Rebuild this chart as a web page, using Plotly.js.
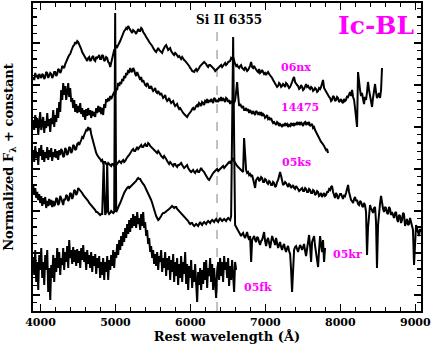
<!DOCTYPE html>
<html>
<head>
<meta charset="utf-8">
<script src="https://cdn.plot.ly/plotly-3.0.1.min.js"></script>
<style>
  html, body { margin: 0; padding: 0; background: #fff; }
  #plot { width: 436px; height: 345px; }
</style>
</head>
<body>
<div id="plot"></div>
<script>
// spectra: [rest wavelength (A), normalized flux + constant]
const sn06nx = [[3903,23.4],[3916,23.1],[3930,23.8],[3943,23.4],[3956,23.5],[3970,23.2],[3983,23.7],[3996,23.5],[4010,23.3],[4023,23.7],[4036,23.6],[4050,23.2],[4063,23.4],[4076,23.9],[4090,23.8],[4103,23.3],[4116,23.5],[4130,23.8],[4143,23.7],[4156,23.3],[4170,23.5],[4183,23.9],[4196,23.9],[4210,23.5],[4223,23.7],[4236,24.2],[4250,24.1],[4263,23.8],[4276,24.0],[4290,24.5],[4303,24.4],[4316,24.3],[4330,24.7],[4343,25.0],[4356,25.1],[4370,25.4],[4383,25.6],[4396,25.7],[4410,26.0],[4423,26.3],[4436,26.5],[4450,26.6],[4463,26.9],[4476,26.7],[4490,27.0],[4503,26.9],[4516,26.7],[4530,26.4],[4543,26.2],[4556,25.9],[4570,25.7],[4583,25.5],[4596,25.3],[4610,25.1],[4623,25.0],[4636,25.3],[4650,25.4],[4663,25.0],[4676,25.1],[4690,25.4],[4703,25.5],[4716,25.1],[4730,25.0],[4743,25.4],[4756,25.3],[4770,25.4],[4783,25.6],[4796,25.2],[4810,25.2],[4823,25.6],[4836,25.5],[4850,25.0],[4863,25.1],[4876,25.4],[4890,25.3],[4903,24.9],[4916,24.8],[4930,24.4],[4943,24.9],[4956,25.3],[4970,25.7],[4983,26.1],[4996,26.2],[5010,26.5],[5023,26.4],[5036,26.7],[5050,26.8],[5063,27.0],[5076,27.3],[5090,27.5],[5103,27.7],[5116,28.0],[5130,28.1],[5143,28.3],[5156,28.2],[5170,28.5],[5183,28.3],[5196,28.1],[5210,27.9],[5223,27.8],[5236,28.1],[5250,28.0],[5263,27.9],[5276,27.7],[5290,28.0],[5303,28.2],[5316,28.0],[5330,28.0],[5343,28.3],[5356,28.2],[5370,27.9],[5383,27.8],[5396,27.6],[5410,27.4],[5423,27.3],[5436,27.1],[5450,26.9],[5463,26.8],[5476,26.7],[5490,26.5],[5503,26.3],[5516,26.1],[5530,26.0],[5543,25.9],[5556,26.1],[5570,26.3],[5583,26.1],[5596,26.0],[5610,25.9],[5623,25.8],[5636,26.1],[5650,26.4],[5663,26.5],[5676,26.6],[5690,26.3],[5703,26.1],[5716,26.2],[5730,26.3],[5743,26.0],[5756,25.8],[5770,25.7],[5783,25.6],[5796,25.8],[5810,25.7],[5823,25.5],[5836,25.4],[5850,25.5],[5863,25.3],[5876,25.2],[5890,25.4],[5903,25.2],[5916,25.1],[5930,25.0],[5943,24.9],[5956,24.8],[5970,24.6],[5983,24.5],[5996,24.3],[6010,24.2],[6023,24.0],[6036,23.9],[6050,23.9],[6063,24.1],[6076,24.2],[6090,24.0],[6103,24.1],[6116,24.3],[6130,24.5],[6143,24.6],[6156,24.7],[6170,24.8],[6183,24.9],[6196,24.8],[6210,24.7],[6223,24.5],[6236,24.4],[6250,24.6],[6263,24.6],[6276,24.5],[6290,24.4],[6303,24.3],[6316,24.2],[6330,24.0],[6343,24.1],[6356,24.2],[6370,24.3],[6383,24.4],[6396,24.5],[6410,24.6],[6423,24.4],[6436,24.5],[6450,24.7],[6463,24.8],[6476,24.6],[6490,24.7],[6503,24.9],[6516,25.0],[6530,25.0],[6543,25.3],[6556,25.2],[6570,25.4],[6583,24.9],[6596,24.7],[6610,24.5],[6623,24.6],[6636,24.4],[6650,24.3],[6663,24.5],[6676,24.6],[6690,24.3],[6703,24.2],[6716,24.1],[6730,24.4],[6743,24.2],[6756,24.0],[6770,24.1],[6783,24.3],[6796,24.5],[6810,24.9],[6823,24.4],[6836,24.3],[6850,24.5],[6863,24.3],[6876,24.1],[6890,24.0],[6903,23.9],[6916,24.2],[6929,23.8],[6943,23.9],[6956,24.1],[6970,23.9],[6983,23.7],[6996,23.8],[7010,23.6],[7023,23.8],[7036,23.9],[7050,23.7],[7063,23.6],[7076,23.5],[7090,23.3],[7103,23.1],[7116,22.9],[7130,22.8],[7143,22.6],[7156,22.4],[7170,22.5],[7183,22.8],[7196,22.7],[7210,22.4],[7223,22.5],[7236,22.7],[7250,22.6],[7263,22.4],[7276,22.8],[7290,22.7],[7303,22.5],[7316,22.3],[7330,22.4],[7343,22.6],[7356,22.9],[7370,23.2],[7383,23.4],[7396,22.9],[7410,22.7],[7423,22.6],[7436,22.5],[7450,22.2],[7463,22.3],[7476,22.6],[7490,22.4],[7503,22.1],[7516,22.2],[7530,22.5],[7543,22.7],[7556,22.4],[7570,22.5],[7583,22.3],[7596,22.2],[7610,22.4],[7623,22.3],[7636,22.0],[7650,22.1],[7663,22.3],[7676,22.2],[7690,21.9],[7703,22.0],[7716,22.3],[7730,22.2],[7743,22.4],[7756,22.7],[7769,23.1],[7783,22.3],[7796,22.1],[7810,21.9],[7823,21.8],[7836,21.5],[7850,21.4],[7863,21.3],[7876,21.0],[7889,21.1],[7903,21.5],[7916,21.4],[7930,21.0],[7943,21.1],[7956,21.4],[7969,21.3],[7983,20.9],[7996,21.0],[8010,21.2],[8023,20.9],[8036,20.8],[8050,21.2],[8063,21.0],[8076,21.1],[8090,21.5],[8103,21.4],[8116,21.7],[8129,21.9],[8143,21.5],[8156,22.1],[8170,21.4],[8183,21.1],[8196,20.3],[8210,19.3],[8223,18.4],[8236,23.9],[8250,22.6],[8263,22.1],[8276,21.5],[8289,21.8],[8303,21.2],[8316,20.7],[8329,21.4],[8343,21.1],[8356,21.9],[8369,22.9],[8383,22.1],[8396,21.5],[8409,21.0],[8423,20.4],[8436,21.3],[8449,22.1],[8463,22.7],[8476,21.9],[8489,21.3],[8503,21.5],[8516,21.8],[8530,21.3],[8543,22.1],[8556,24.3]];

const sn14475 = [[3903,19.1],[3916,18.1],[3930,19.6],[3943,18.3],[3956,19.3],[3970,17.6],[3983,18.9],[3996,19.9],[4010,18.1],[4023,18.6],[4036,19.4],[4050,17.8],[4063,19.0],[4076,18.3],[4090,19.8],[4103,18.5],[4116,19.2],[4130,17.9],[4143,19.3],[4156,18.7],[4170,20.1],[4183,18.4],[4196,19.6],[4210,18.9],[4223,20.3],[4236,19.3],[4250,20.9],[4263,19.9],[4276,22.1],[4290,21.1],[4303,22.8],[4316,21.6],[4330,22.5],[4343,21.1],[4356,21.9],[4370,22.8],[4383,21.4],[4396,22.3],[4410,20.9],[4423,21.3],[4436,20.3],[4450,21.1],[4463,19.9],[4476,20.7],[4490,19.8],[4503,20.5],[4516,19.9],[4530,20.8],[4543,19.7],[4556,20.3],[4570,19.4],[4583,20.1],[4596,19.1],[4610,20.2],[4623,19.5],[4636,20.3],[4650,19.6],[4663,20.1],[4676,19.3],[4690,20.0],[4703,19.5],[4716,19.9],[4730,19.4],[4743,20.3],[4756,19.8],[4770,20.5],[4783,19.9],[4796,20.4],[4810,19.7],[4823,20.3],[4836,19.6],[4850,20.7],[4863,20.3],[4876,21.2],[4890,20.9],[4903,21.3],[4916,21.0],[4930,21.5],[4943,21.2],[4956,21.4],[4970,21.7],[4983,21.9],[4996,21.6],[5010,22.3],[5023,22.1],[5036,22.8],[5050,22.5],[5063,22.9],[5076,22.7],[5090,23.2],[5103,23.0],[5116,23.5],[5130,23.3],[5143,23.8],[5156,23.6],[5170,24.1],[5183,23.8],[5196,24.3],[5210,24.0],[5223,23.9],[5236,24.3],[5250,24.1],[5263,23.7],[5276,23.5],[5290,23.9],[5303,23.6],[5316,23.3],[5330,23.1],[5343,23.4],[5356,22.9],[5370,23.1],[5383,22.8],[5396,22.6],[5410,22.5],[5423,22.8],[5436,22.6],[5450,22.3],[5463,22.3],[5476,22.5],[5490,22.2],[5503,22.0],[5516,22.1],[5530,22.3],[5543,21.9],[5556,21.8],[5570,22.0],[5583,21.7],[5596,21.6],[5610,21.8],[5623,21.5],[5636,21.3],[5650,21.4],[5663,21.6],[5676,21.2],[5690,21.0],[5703,21.1],[5716,21.3],[5730,21.0],[5743,20.8],[5756,20.9],[5770,21.0],[5783,20.7],[5796,20.5],[5810,20.6],[5823,20.7],[5836,20.4],[5850,20.2],[5863,20.3],[5876,20.1],[5890,20.0],[5903,19.8],[5916,19.7],[5930,19.6],[5943,19.5],[5956,19.4],[5970,19.6],[5983,19.7],[5996,19.9],[6010,20.0],[6023,20.2],[6036,20.3],[6050,20.1],[6063,20.4],[6076,20.5],[6090,20.6],[6103,20.4],[6116,20.8],[6130,20.7],[6143,20.5],[6156,20.9],[6170,20.8],[6183,20.6],[6196,21.0],[6210,20.9],[6223,21.2],[6236,20.8],[6250,21.1],[6263,20.9],[6276,21.2],[6290,21.0],[6303,20.8],[6316,21.3],[6330,21.2],[6343,20.9],[6356,21.1],[6370,20.9],[6383,21.3],[6396,21.0],[6410,21.4],[6423,21.0],[6436,21.3],[6450,21.1],[6463,20.9],[6476,21.3],[6490,21.2],[6503,20.9],[6516,21.1],[6530,20.7],[6543,21.0],[6556,20.8],[6570,21.0],[6583,20.8],[6596,21.1],[6610,21.9],[6623,22.9],[6636,21.6],[6650,20.5],[6663,20.7],[6676,20.4],[6690,20.3],[6703,20.5],[6716,20.1],[6730,20.1],[6743,20.3],[6756,20.0],[6770,20.2],[6783,19.8],[6796,20.1],[6810,19.9],[6823,19.7],[6836,20.0],[6850,19.8],[6863,19.6],[6876,20.0],[6890,19.9],[6903,19.7],[6916,19.8],[6929,19.6],[6943,19.9],[6956,19.5],[6970,19.7],[6983,19.6],[6996,19.3],[7010,19.4],[7023,19.6],[7036,19.2],[7050,19.3],[7063,19.1],[7076,19.3],[7090,19.0],[7103,18.8],[7116,18.9],[7130,18.7],[7143,18.6],[7156,18.9],[7170,18.8],[7183,18.5],[7196,18.7],[7210,18.6],[7223,18.4],[7236,18.7],[7250,18.5],[7263,18.8],[7276,18.6],[7290,18.7],[7303,18.4],[7316,18.6],[7330,18.5],[7343,18.8],[7356,18.6],[7370,18.7],[7383,18.5],[7396,18.8],[7410,18.6],[7423,18.9],[7436,18.7],[7450,18.8],[7463,18.6],[7476,18.9],[7490,18.7],[7503,18.5],[7516,18.8],[7530,18.9],[7543,18.6],[7556,18.8],[7570,18.7],[7583,18.9],[7596,18.5],[7610,18.6],[7623,18.7],[7636,18.3],[7650,18.4],[7663,18.1],[7676,17.9],[7690,17.6],[7703,17.4],[7716,17.3],[7730,17.1],[7743,16.9],[7756,16.8],[7769,16.7],[7783,16.5],[7796,16.3],[7810,16.1],[7823,16.2],[7836,15.8]];

const sn05ks = [[3903,16.1],[3916,14.9],[3930,16.5],[3943,15.3],[3956,15.9],[3970,14.6],[3983,16.3],[3996,15.5],[4010,16.6],[4023,15.1],[4036,16.1],[4050,14.9],[4063,15.9],[4076,15.3],[4090,16.4],[4103,15.1],[4116,16.1],[4130,15.4],[4143,16.3],[4156,15.0],[4170,15.9],[4183,15.4],[4196,16.2],[4210,15.3],[4223,16.0],[4236,15.1],[4250,16.1],[4263,15.6],[4276,16.2],[4290,16.0],[4303,15.4],[4316,15.5],[4330,16.3],[4343,16.1],[4356,15.6],[4370,15.8],[4383,16.4],[4396,16.3],[4410,15.8],[4423,16.0],[4436,16.6],[4450,16.5],[4463,16.1],[4476,16.2],[4490,16.7],[4503,16.8],[4516,16.6],[4530,17.0],[4543,17.1],[4556,17.4],[4570,17.3],[4583,17.6],[4596,17.8],[4610,18.1],[4623,18.0],[4636,18.4],[4650,18.1],[4663,18.3],[4676,17.7],[4690,17.3],[4703,16.9],[4716,16.4],[4730,15.9],[4743,15.8],[4756,15.6],[4770,15.4],[4783,15.3],[4796,15.2],[4810,15.0],[4823,15.1],[4836,14.8],[4850,14.9],[4863,14.9],[4876,14.7],[4890,14.6],[4903,14.8],[4916,14.7],[4930,14.6],[4943,14.5],[4956,14.7],[4970,14.7],[4983,14.5],[4996,14.5],[5010,14.6],[5023,14.7],[5036,14.9],[5050,15.0],[5063,14.9],[5076,14.8],[5090,15.0],[5103,15.1],[5116,14.9],[5130,15.0],[5143,15.2],[5156,15.4],[5170,15.5],[5183,15.6],[5196,15.8],[5210,15.9],[5223,16.1],[5236,16.2],[5250,16.0],[5263,16.0],[5276,16.3],[5290,16.4],[5303,16.2],[5316,16.3],[5330,16.5],[5343,16.6],[5356,16.4],[5370,16.4],[5383,16.6],[5396,16.7],[5410,16.5],[5423,16.5],[5436,16.8],[5450,16.7],[5463,16.5],[5476,16.4],[5490,16.4],[5503,16.2],[5516,16.1],[5530,16.0],[5543,15.9],[5556,15.8],[5570,16.0],[5583,15.9],[5596,15.7],[5610,15.5],[5623,15.4],[5636,15.3],[5650,15.5],[5663,15.4],[5676,15.2],[5690,15.0],[5703,14.9],[5716,14.7],[5730,14.9],[5743,14.8],[5756,14.6],[5770,14.5],[5783,14.7],[5796,14.7],[5810,14.5],[5823,14.4],[5836,14.6],[5850,14.6],[5863,14.7],[5876,14.8],[5890,14.6],[5903,14.5],[5916,14.3],[5930,14.4],[5943,14.5],[5956,14.6],[5970,14.3],[5983,14.1],[5996,14.0],[6010,13.9],[6023,14.0],[6036,14.1],[6050,13.9],[6063,13.8],[6076,14.0],[6090,14.1],[6103,13.9],[6116,13.9],[6130,14.1],[6143,14.3],[6156,14.1],[6170,14.0],[6183,13.9],[6196,13.7],[6210,13.5],[6223,13.4],[6236,13.2],[6250,13.1],[6263,13.3],[6276,13.5],[6290,13.6],[6303,13.8],[6316,13.9],[6330,14.0],[6343,14.1],[6356,14.2],[6370,14.0],[6383,14.1],[6396,14.2],[6410,14.3],[6423,14.4],[6436,14.5],[6450,14.3],[6463,14.4],[6476,14.6],[6490,14.7],[6503,14.8],[6516,14.9],[6530,14.8],[6543,15.0],[6556,15.1],[6570,15.3],[6583,15.0],[6596,14.8],[6610,14.6],[6623,14.5],[6636,14.4],[6650,14.3],[6663,14.2],[6676,14.1],[6690,14.0],[6703,13.9],[6716,17.3],[6730,15.1],[6743,14.1],[6756,13.8],[6770,13.9],[6783,13.6],[6796,13.7],[6810,13.5],[6823,13.6],[6836,13.2],[6850,12.8],[6863,12.3],[6876,13.1],[6890,13.3],[6903,13.4],[6916,13.0],[6929,13.1],[6943,13.4],[6956,13.3],[6970,12.9],[6983,12.9],[6996,13.2],[7010,13.1],[7023,12.8],[7036,12.7],[7050,13.0],[7063,12.9],[7076,12.6],[7090,12.6],[7103,12.9],[7116,12.8],[7130,12.4],[7143,12.5],[7156,12.9],[7170,13.1],[7183,13.5],[7196,13.9],[7210,13.5],[7223,12.9],[7236,12.6],[7250,12.7],[7263,12.9],[7276,12.8],[7290,12.5],[7303,12.4],[7316,12.7],[7330,12.6],[7343,12.3],[7356,12.4],[7370,12.6],[7383,12.3],[7396,12.2],[7410,12.5],[7423,12.4],[7436,12.2],[7450,12.0],[7463,12.1],[7476,12.3],[7490,12.3],[7503,12.0],[7516,12.0],[7530,12.3],[7543,12.2],[7556,11.9],[7570,11.9],[7583,12.2],[7596,12.1],[7610,11.8],[7623,11.8],[7636,12.1],[7650,12.0],[7663,11.6],[7676,11.7],[7690,12.0],[7703,11.9],[7716,11.5],[7730,11.6],[7743,11.8],[7756,11.4],[7769,11.6],[7783,11.8],[7796,11.5],[7810,11.6],[7823,11.9],[7836,11.9],[7850,12.2],[7863,12.1],[7876,12.4],[7889,12.5],[7903,11.9],[7916,11.5],[7929,11.3],[7943,11.8],[7956,11.6],[7970,11.2],[7983,11.4],[7996,11.7],[8010,11.7],[8023,11.3],[8036,11.2],[8050,11.6],[8063,11.5],[8076,11.8],[8090,12.1],[8103,12.6],[8116,11.9],[8130,11.4],[8143,11.1],[8156,11.0],[8170,10.8],[8183,11.2],[8196,11.4],[8210,11.0],[8223,11.1],[8236,10.7],[8250,10.6],[8263,11.0],[8276,10.9],[8290,10.5],[8303,10.4],[8316,10.8],[8329,10.6],[8343,9.9],[8356,5.6],[8369,8.3],[8383,10.1],[8396,10.6],[8409,10.3],[8423,10.0],[8436,9.8],[8450,10.3],[8463,10.4],[8476,8.9],[8489,4.3],[8503,8.6],[8516,10.1],[8530,10.8],[8543,11.5],[8556,10.6],[8570,10.2],[8583,9.9],[8596,10.4],[8609,10.3],[8623,9.8],[8636,9.7],[8650,10.4],[8663,10.2],[8676,9.6],[8689,9.9],[8703,9.6],[8716,9.3],[8730,9.8],[8743,9.9],[8756,9.2],[8769,8.9],[8783,9.6],[8796,9.5],[8810,8.8],[8823,9.1],[8836,9.8],[8849,9.7],[8863,8.5],[8876,9.0],[8889,9.2],[8903,8.6],[8916,8.7],[8930,9.3],[8943,8.9],[8956,8.4],[8969,8.1],[8983,4.6],[8996,7.6],[9010,8.6],[9023,8.3],[9036,7.8],[9049,7.5],[9063,8.2],[9076,7.9]];

const sn05kr = [[3903,12.6],[3916,11.6],[3930,12.3],[3943,11.3],[3956,11.9],[3970,11.1],[3983,11.7],[3996,10.8],[4010,11.5],[4023,10.5],[4036,11.3],[4050,10.7],[4063,11.4],[4076,10.3],[4090,11.0],[4103,10.5],[4116,11.2],[4130,10.6],[4143,11.1],[4156,10.4],[4170,11.0],[4183,10.5],[4196,10.7],[4210,11.3],[4223,11.2],[4236,10.6],[4250,10.8],[4263,11.5],[4276,11.3],[4290,10.9],[4303,10.6],[4316,11.2],[4330,11.1],[4343,11.6],[4356,11.5],[4370,11.0],[4383,11.2],[4396,11.8],[4410,11.7],[4423,11.2],[4436,11.5],[4450,12.1],[4463,12.0],[4476,11.6],[4490,11.8],[4503,12.3],[4516,12.2],[4530,12.1],[4543,11.9],[4556,11.8],[4570,11.6],[4583,11.5],[4596,11.3],[4610,11.2],[4623,11.1],[4636,11.0],[4650,10.8],[4663,10.7],[4676,10.6],[4690,10.4],[4703,10.3],[4716,10.2],[4730,10.1],[4743,9.9],[4756,9.9],[4770,9.8],[4783,9.7],[4796,9.6],[4810,9.7],[4823,9.7],[4836,13.1],[4843,14.8],[4850,12.1],[4863,9.6],[4876,9.9],[4890,14.8],[4903,9.9],[4916,9.7],[4930,9.8],[4943,10.0],[4956,9.9],[4970,9.8],[4983,9.9],[4996,29.8],[5010,9.9],[5023,10.2],[5036,10.4],[5050,10.6],[5063,10.8],[5076,11.1],[5090,11.3],[5103,11.5],[5116,11.8],[5130,12.0],[5143,12.2],[5156,12.3],[5170,12.4],[5183,12.3],[5196,12.4],[5210,12.5],[5223,12.6],[5236,12.7],[5250,12.8],[5263,12.9],[5276,13.0],[5290,13.2],[5303,13.3],[5316,13.2],[5330,13.2],[5343,13.0],[5356,12.8],[5370,12.7],[5383,12.6],[5396,12.4],[5410,12.2],[5423,12.0],[5436,11.8],[5450,11.6],[5463,11.4],[5476,11.1],[5490,10.8],[5503,10.4],[5516,10.1],[5530,9.8],[5543,9.5],[5556,9.3],[5570,9.1],[5583,9.2],[5596,9.3],[5610,9.5],[5623,9.7],[5636,9.8],[5650,9.8],[5663,9.9],[5676,10.0],[5690,10.1],[5703,10.2],[5716,10.2],[5730,10.3],[5743,10.4],[5756,10.5],[5770,10.4],[5783,10.3],[5796,10.4],[5810,10.4],[5823,10.2],[5836,10.1],[5850,10.0],[5863,9.9],[5876,9.8],[5890,9.7],[5903,9.5],[5916,9.4],[5930,9.3],[5943,9.2],[5956,9.1],[5970,9.0],[5983,8.8],[5996,8.7],[6010,8.8],[6023,8.8],[6036,8.6],[6050,8.5],[6063,8.6],[6076,8.7],[6090,8.6],[6103,8.5],[6116,8.7],[6130,8.9],[6143,8.7],[6156,8.6],[6170,8.8],[6183,8.9],[6196,8.8],[6210,8.7],[6223,8.9],[6236,9.0],[6250,8.9],[6263,8.8],[6276,9.0],[6290,9.1],[6303,9.0],[6316,8.9],[6330,9.1],[6343,9.2],[6356,9.0],[6370,8.9],[6383,9.1],[6396,9.3],[6410,9.1],[6423,9.0],[6436,9.1],[6450,9.2],[6463,9.1],[6476,9.0],[6490,9.2],[6503,9.3],[6516,9.2],[6530,9.1],[6543,9.5],[6556,16.1],[6570,27.4],[6583,17.1],[6596,8.6],[6610,8.4],[6623,8.2],[6636,8.0],[6650,7.9],[6663,7.6],[6676,7.5],[6690,7.7],[6703,7.8],[6716,7.5],[6730,7.3],[6743,7.6],[6756,7.9],[6770,7.4],[6783,7.1],[6796,7.5],[6810,4.9],[6823,7.1],[6836,7.4],[6850,7.5],[6863,7.1],[6876,6.9],[6890,7.4],[6903,7.3],[6916,6.9],[6929,6.6],[6943,7.0],[6956,7.1],[6970,7.5],[6983,7.9],[6996,7.0],[7010,6.5],[7023,7.1],[7036,7.3],[7050,6.8],[7063,6.3],[7076,6.9],[7090,7.5],[7103,7.2],[7116,6.8],[7130,6.6],[7143,7.3],[7156,6.9],[7170,6.3],[7183,6.6],[7196,6.9],[7210,6.4],[7223,6.1],[7236,6.5],[7250,6.7],[7263,6.2],[7276,5.9],[7290,6.3],[7303,6.5],[7316,6.0],[7330,5.7],[7343,4.1],[7356,1.9],[7370,4.1],[7383,6.1],[7396,6.4],[7410,6.5],[7423,6.2],[7436,5.9],[7450,6.3],[7463,6.6],[7476,6.4],[7490,6.1],[7503,6.4],[7516,6.7],[7530,6.0],[7543,5.5],[7556,6.2],[7570,6.9],[7583,7.6],[7596,6.5],[7610,4.9],[7623,6.9],[7636,7.2],[7650,7.5],[7663,6.5],[7676,5.9],[7690,5.3],[7703,4.4],[7716,6.1],[7730,7.5],[7743,6.6],[7756,5.9],[7769,7.1],[7783,4.9],[7796,6.3]];

const sn05fk = [[3903,5.4],[3916,3.6],[3930,6.1],[3943,2.9],[3956,4.9],[3970,2.1],[3983,5.6],[3996,4.1],[4010,6.3],[4023,3.3],[4036,4.9],[4050,2.6],[4063,5.6],[4076,4.1],[4090,6.1],[4103,1.9],[4116,4.3],[4130,1.1],[4143,4.6],[4156,3.3],[4170,5.6],[4183,2.9],[4196,5.3],[4210,3.9],[4223,6.3],[4236,4.3],[4250,5.9],[4263,3.6],[4276,5.3],[4290,4.6],[4303,6.3],[4316,4.1],[4330,5.9],[4343,4.9],[4356,6.5],[4370,4.3],[4383,7.1],[4396,5.3],[4410,6.1],[4423,4.7],[4436,6.4],[4450,4.9],[4463,6.1],[4476,4.5],[4490,6.2],[4503,4.8],[4516,6.0],[4530,4.3],[4543,6.3],[4556,5.1],[4570,6.6],[4583,4.9],[4596,5.9],[4610,4.1],[4623,6.1],[4636,4.7],[4650,5.6],[4663,4.3],[4676,5.9],[4690,3.9],[4703,5.5],[4716,4.5],[4730,5.7],[4743,3.7],[4756,5.3],[4770,4.3],[4783,5.5],[4796,3.3],[4810,4.9],[4823,3.6],[4836,5.3],[4850,3.1],[4863,4.9],[4876,3.9],[4890,5.5],[4903,3.1],[4916,5.1],[4930,4.1],[4943,5.6],[4956,4.5],[4970,6.1],[4983,4.3],[4996,5.9],[5010,5.3],[5023,6.7],[5036,5.6],[5050,7.1],[5063,6.1],[5076,7.5],[5090,6.5],[5103,7.9],[5116,6.9],[5130,8.3],[5143,7.3],[5156,8.7],[5170,7.7],[5183,9.1],[5196,7.9],[5210,9.3],[5223,8.3],[5236,9.7],[5250,8.5],[5263,9.5],[5276,8.3],[5290,9.9],[5303,8.7],[5316,9.3],[5330,8.1],[5343,9.7],[5356,8.5],[5370,9.9],[5383,8.3],[5396,8.9],[5410,7.5],[5423,8.1],[5436,6.7],[5450,7.3],[5463,5.9],[5476,6.5],[5490,5.3],[5503,6.1],[5516,4.7],[5530,5.7],[5543,4.5],[5556,5.9],[5570,4.1],[5583,5.5],[5596,4.9],[5610,6.1],[5623,3.9],[5636,5.3],[5650,4.3],[5663,5.9],[5676,3.5],[5690,5.3],[5703,4.1],[5716,5.5],[5730,3.1],[5743,5.1],[5756,3.9],[5770,5.7],[5783,2.9],[5796,4.9],[5810,3.5],[5823,5.3],[5836,2.6],[5850,4.7],[5863,3.3],[5876,5.5],[5890,2.9],[5903,4.9],[5916,3.7],[5930,5.9],[5943,2.7],[5956,4.7],[5970,2.1],[5983,4.5],[5996,3.3],[6010,5.1],[6023,2.3],[6036,4.1],[6050,2.9],[6063,4.7],[6076,1.9],[6090,0.9],[6103,3.9],[6116,2.6],[6130,4.3],[6143,2.1],[6156,4.1],[6170,2.7],[6183,4.9],[6196,3.1],[6210,5.1],[6223,2.3],[6236,4.3],[6250,3.5],[6263,5.3],[6276,2.9],[6290,4.7],[6303,2.1],[6316,4.3],[6330,2.5],[6343,1.3],[6356,3.9],[6370,4.9],[6383,3.1],[6396,5.3],[6410,3.5],[6423,4.9],[6436,2.9],[6450,5.5],[6463,4.1],[6476,4.9],[6490,3.3],[6503,5.3],[6516,2.5],[6530,4.5],[6543,3.1],[6556,5.1],[6570,3.5],[6583,1.9],[6596,4.9],[6610,4.1]];

const spectra = [sn06nx, sn14475, sn05ks, sn05kr, sn05fk];

// labels placed next to each spectrum
const labelText = ['06nx', '14475', '05ks', '05kr', '05fk'];
const labelX = [7409, 7462, 7409, 8102, 6902];
const labelY = [24.4, 20.4, 14.9, 5.7, 2.4];

const siLine = 6355;

const serif = 'DejaVu Serif, Liberation Serif, serif';

const data = spectra.map(s => ({
    type: 'scatter',
    mode: 'lines',
    x: s.map(p => p[0]),
    y: s.map(p => p[1]),
    line: { color: 'black', width: 2 },
    hoverinfo: 'skip',
    showlegend: false
}));

const annotations = labelText.map((t, i) => ({
    x: labelX[i], y: labelY[i], xref: 'x', yref: 'y',
    text: t, showarrow: false,
    font: { family: serif, size: 11, color: '#ff00ff', weight: 'bold' }
}));
annotations.push({
    x: 6515, y: 29.1, xref: 'x', yref: 'y', text: 'Si II 6355', showarrow: false,
    font: { family: serif, size: 12, color: 'black', weight: 'bold' }
});
annotations.push({
    x: 8475, y: 28.6, xref: 'x', yref: 'y', text: 'Ic-BL', showarrow: false,
    font: { family: serif, size: 25, color: '#ff00ff', weight: 'bold' }
});

const layout = {
    width: 436,
    height: 345,
    margin: { l: 33, r: 15, t: 3, b: 34 },
    paper_bgcolor: 'white',
    plot_bgcolor: 'white',
    showlegend: false,
    xaxis: {
        range: [3900, 9076],
        tick0: 4000, dtick: 1000,
        ticks: 'inside', ticklen: 7, tickwidth: 1.5, tickcolor: 'black',
        minor: { dtick: 200, ticks: 'inside', ticklen: 4, tickwidth: 1.2, tickcolor: 'black' },
        showline: true, linewidth: 2, linecolor: 'black', mirror: 'ticks',
        showgrid: false, zeroline: false,
        tickfont: { family: serif, size: 11, color: 'black', weight: 'bold' },
        title: { text: 'Rest wavelength (Å)', standoff: 4,
                 font: { family: serif, size: 13, color: 'black', weight: 'bold' } }
    },
    yaxis: {
        range: [0, 30.8],
        tick0: 1.6, dtick: 4.2,
        ticks: 'inside', ticklen: 7, tickwidth: 1.5, tickcolor: 'black',
        minor: { dtick: 0.84, ticks: 'inside', ticklen: 4, tickwidth: 1.2, tickcolor: 'black' },
        showline: true, linewidth: 2, linecolor: 'black', mirror: 'ticks',
        showgrid: false, zeroline: false,
        showticklabels: false,
        title: { text: 'Normalized F<sub>λ</sub> + constant', standoff: 14,
                 font: { family: serif, size: 13, color: 'black', weight: 'bold' } }
    },
    shapes: [{
        type: 'line', xref: 'x', yref: 'y',
        x0: siLine, x1: siLine, y0: 0, y1: 28.3,
        line: { color: '#999999', width: 1.2, dash: 'dash' },
        layer: 'below'
    }],
    annotations: annotations
};

Plotly.newPlot('plot', data, layout, { displayModeBar: false, staticPlot: true });
</script>
</body>
</html>
